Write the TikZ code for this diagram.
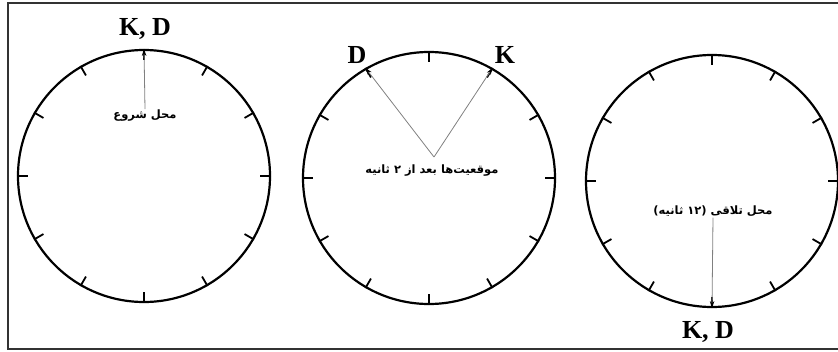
\documentclass[tikz,border=0pt]{standalone}
\usepackage{fontspec}
\setmainfont{Liberation Serif}
\newfontfamily\arabicfont[Script=Arabic]{DejaVu Sans Bold}
\TeXXeTstate=1
\usetikzlibrary{arrows.meta,calc}
\tikzset{
  x=1pt, y=-1pt,
  dial/.style={circle, draw=black, line width=2.2pt, minimum size=252pt, inner sep=0pt},
  tick/.style={line width=1.8pt, black},
  bigname/.style={font=\fontsize{26}{26}\selectfont\bfseries, inner sep=0pt},
  farsi/.style={font=\fontsize{11.5}{12}\selectfont\arabicfont, inner sep=1pt},
  pointer/.style={draw=gray, line width=0.8pt, -{Stealth[length=7pt,width=4.5pt,black]}},
  framecol/.style={draw=black!80, line width=1.2pt}
}
\begin{document}
\begin{tikzpicture}
\useasboundingbox (0,0) rectangle (838,351);
\draw[framecol] (838,3) -- (8,3) -- (8,349) -- (838,349);

% dials
\node[dial] (c1) at (144,176) {};
\node[dial] (c2) at (429,178) {};
\node[dial] (c3) at (712,181) {};
\foreach \c in {c1,c2,c3}{
  \foreach \a in {0,30,...,330}{
    \draw[tick] (\c.\a) -- ($(\c.\a)!11pt!(\c.center)$);
  }
}

% dial 1
\node[bigname] (n1) at (145,29) {K, D};
\node[farsi] (s1) at (145,116) {\beginR محل شروع\endR};
\draw[pointer] (s1.north) -- (c1.north);

% dial 2
\node[bigname] (d2) at (357,55) {D};
\node[bigname] (k2) at (505,55) {K};
\node[farsi] (s2) at (432,171) {\beginR موقعیت‌ها بعد از ۲ ثانیه\endR};
\coordinate (o2) at (434,157);
\draw[pointer] (o2) -- (c2.120);
\draw[pointer] (o2) -- (c2.60);

% dial 3
\node[farsi] (s3) at (713,211) {\beginR محل تلاقی (۱۲ ثانیه)\endR};
\draw[pointer] (s3.south) -- (c3.south);
\node[bigname] (n3) at (708,332) {K, D};
\end{tikzpicture}
\end{document}
